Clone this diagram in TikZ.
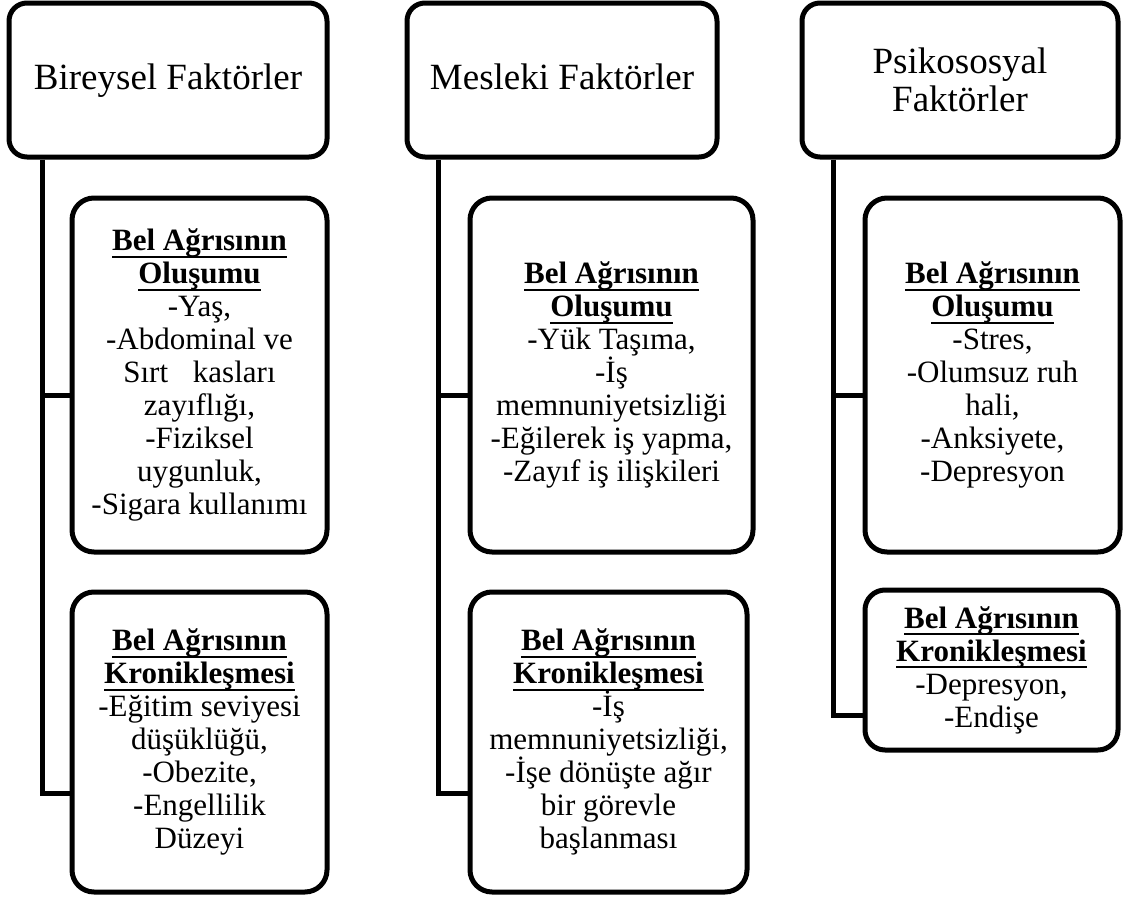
\documentclass[tikz,border=0pt]{standalone}
\usepackage{fontspec}
\setmainfont{Liberation Serif}
\usepackage{tikz}
\usetikzlibrary{positioning}
\newcommand{\topfont}{\fontsize{37}{38}\selectfont}
\newcommand{\subfont}{\fontsize{31}{33}\selectfont}
\newcommand{\hd}[1]{\textbf{\setbox0\hbox{#1}\rlap{\rule[-7pt]{\wd0}{2pt}}\box0}}

\begin{document}
\begin{tikzpicture}[x=1pt,y=-1pt,
  topbox/.style={draw,line width=5pt,rounded corners=18pt,align=center,font=\topfont,inner sep=2pt},
  oneline/.style={text height=26pt,text depth=8pt},
  subbox/.style={draw,line width=5pt,rounded corners=22pt,align=center,font=\subfont,inner sep=2pt},
  link/.style={line width=5pt}]
\useasboundingbox (0,0) rectangle (1125,897);
% --- BIREYSEL ---
\node[topbox,oneline,minimum width=318,minimum height=154] (Fb) at (168,80) {Bireysel Faktörler};
\node[subbox,minimum width=255,minimum height=354] (Ob) at (199.5,375)
  {\hd{Bel Ağrısının}\\ \hd{Oluşumu}\\ -Yaş,\\ -Abdominal ve\\ Sırt\hspace{0.8em}kasları\\ zayıflığı,\\ -Fiziksel\\ uygunluk,\\ -Sigara kullanımı};
\node[subbox,minimum width=255,minimum height=300] (Kb) at (199.5,742)
  {\hd{Bel Ağrısının}\\ \hd{Kronikleşmesi}\\ -Eğitim seviyesi\\ düşüklüğü,\\ -Obezite,\\ -Engellilik\\ Düzeyi};
% --- MESLEKI ---
\node[topbox,oneline,minimum width=310,minimum height=154] (Fm) at (562,80) {Mesleki Faktörler};
\node[subbox,minimum width=283,minimum height=354] (Om) at (611.5,375)
  {\hd{Bel Ağrısının}\\ \hd{Oluşumu}\\ -Yük Taşıma,\\ -İş\\ memnuniyetsizliği\\ -Eğilerek iş yapma,\\ -Zayıf iş ilişkileri};
\node[subbox,minimum width=277,minimum height=300] (Km) at (608.5,742)
  {\hd{Bel Ağrısının}\\ \hd{Kronikleşmesi}\\ -İş\\ memnuniyetsizliği,\\ -İşe dönüşte ağır\\ bir görevle\\ başlanması};
% --- PSIKOSOSYAL ---
\node[topbox,minimum width=316,minimum height=154] (Fp) at (960,80) {Psikososyal\\ Faktörler};
\node[subbox,minimum width=255,minimum height=354] (Op) at (992.5,375)
  {\hd{Bel Ağrısının}\\ \hd{Oluşumu}\\ -Stres,\\ -Olumsuz ruh\\ hali,\\ -Anksiyete,\\ -Depresyon};
\node[subbox,rounded corners=20pt,minimum width=253,minimum height=160] (Kp) at (991.5,670)
  {\hd{Bel Ağrısının}\\ \hd{Kronikleşmesi}\\ -Depresyon,\\ -Endişe};
% --- spines and branches ---
\foreach \f/\x/\ya/\yb in {b/42/395/793, m/438/395/793, p/833/395/715} {
  \draw[link] (F\f.south -| \x,0) |- (K\f.west |- 0,\yb);
  \draw[link] (\x,\ya) -- (O\f.west |- 0,\ya);
}
\end{tikzpicture}
\end{document}
